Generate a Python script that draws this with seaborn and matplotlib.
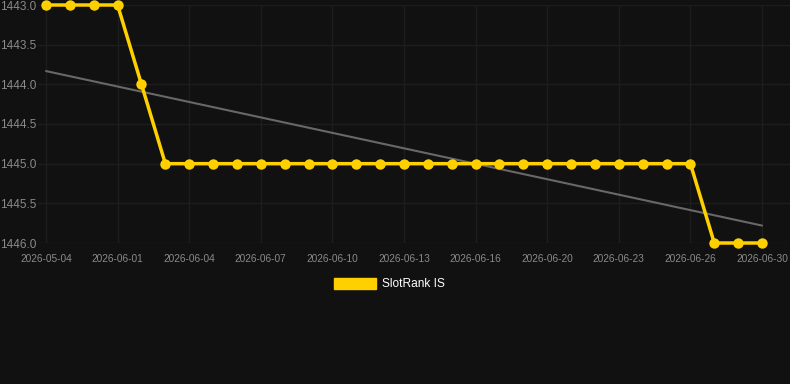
import numpy as np
import pandas as pd
import matplotlib
matplotlib.use("Agg")
import matplotlib.pyplot as plt
import seaborn as sns
from matplotlib.patches import Patch

values = [1443.0, 1443.0, 1443.0, 1443.0, 1444.0] + [1445.0] * 23 + [1446.0, 1446.0, 1446.0]
tick_labels = ["2026-05-04", "2026-06-01", "2026-06-04", "2026-06-07", "2026-06-10",
               "2026-06-13", "2026-06-16", "2026-06-20", "2026-06-23", "2026-06-26", "2026-06-30"]
series_name = "SlotRank IS"
y_ticks = [1443.0, 1443.5, 1444.0, 1444.5, 1445.0, 1445.5, 1446.0]

sns.set_theme(style="dark")
plt.rcParams['font.family'] = ['Liberation Sans', 'DejaVu Sans']

bg = "#111111"
fig = plt.figure(figsize=(7.9, 3.84), dpi=100, facecolor=bg)
ax = fig.add_axes([38 / 790, 1 - 243 / 384, 1 - 38 / 790, (243 - 5) / 384])
ax.set_facecolor(bg)

idx = np.arange(len(values))
df = pd.DataFrame({"idx": idx, "rank": values})

# trend line (linear fit)
coef = np.polyfit(idx, values, 1)
trend = np.polyval(coef, idx)
sns.lineplot(x=idx, y=trend, ax=ax, color="#686868", linewidth=1.5)

sns.lineplot(data=df, x="idx", y="rank", ax=ax, color="#FFD000", linewidth=2.5,
             marker="o", markersize=7.5, markeredgewidth=0, clip_on=False, zorder=5)

step = 23.87
ax.set_ylim(1446.0, 1443.0)
ax.set_xlim(-8 / step, 30 + 28 / step)
ax.set_yticks(y_ticks)
ax.set_yticklabels([f"{v:.1f}" for v in y_ticks], color="#8a8a8a", fontsize=8.5)
tick_pos = idx[::3]
ax.set_xticks(tick_pos)
ax.set_xticklabels(tick_labels, color="#8a8a8a", fontsize=7.3)
ax.tick_params(axis="x", length=0, pad=8)
ax.tick_params(axis="y", length=0, pad=1.2)
ax.set_xlabel("")
ax.set_ylabel("")
ax.grid(True, color="#1d1d1d", linewidth=1)
for s in ax.spines.values():
    s.set_visible(False)

fig.legend(handles=[Patch(facecolor="#FFD000", edgecolor="#FFD000")], labels=[series_name],
           loc="center", bbox_to_anchor=(0.493, 1 - 284 / 384), frameon=False,
           labelcolor="white", fontsize=8.6, handlelength=3.5, handleheight=1.05,
           handletextpad=0.52)

fig.savefig("out.png", dpi=100, facecolor=bg)
